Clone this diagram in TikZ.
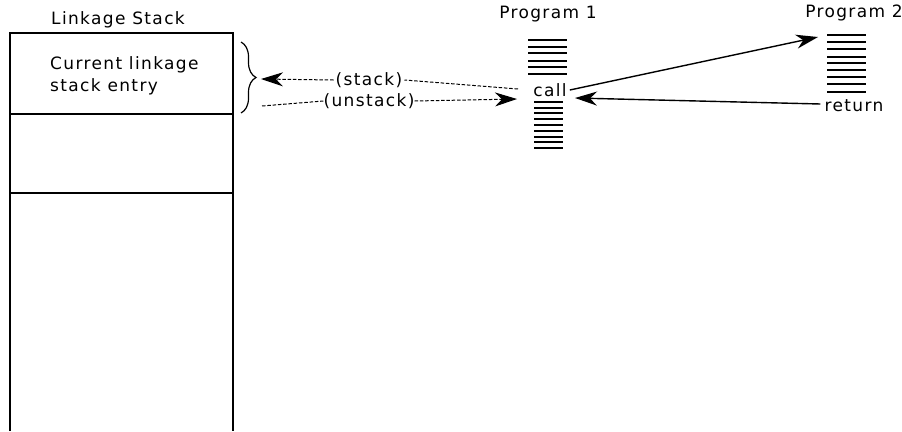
\documentclass[tikz,border=0pt]{standalone}
\usepackage{fontspec}
\setmainfont[LetterSpace=8]{DejaVu Sans}
\usetikzlibrary{arrows.meta,decorations.pathreplacing}
\tikzset{
  lbl/.style={inner sep=0pt, font=\fontsize{17}{22}\selectfont},
  codeline/.style={line width=1.2pt},
  big/.style={-{Stealth[length=22pt,width=14pt,inset=7pt]}},
  dashln/.style={dash pattern=on 3.5pt off 1.8pt, line width=1pt},
  solidarrow/.style={line width=1.4pt}
}
\begin{document}
\begin{tikzpicture}[x=1pt,y=-1pt]
\useasboundingbox (0,0) rectangle (902,431);
% linkage stack
\draw[line width=1.2pt] (10,431) -- (10,33) -- (233,33) -- (233,431);
\draw[line width=1.2pt] (10,114) -- (233,114);
\draw[line width=1.2pt] (10,193) -- (233,193);
\node[lbl] (ltitle) at (118,20) {Linkage Stack};
\node[lbl, align=left, anchor=west] (entry) at (50,76) {Current linkage\\stack entry};
% brace
\draw[line width=1.2pt, decorate, decoration={brace, amplitude=15pt}] (241,42) -- (241,113);
\coordinate (btip) at (261,79);
\coordinate (bstart) at (262,106);
% program 1
\node[lbl] (p1title) at (548,14) {Program 1};
\foreach \y in {40,47,53,61,67,74} \draw[codeline] (528,\y) -- (567,\y);
\node[lbl] (call) at (550,90) {call};
\foreach \y in {102,108,113,119,125,131,137,142,148} \draw[codeline] (534,\y) -- (563,\y);
% program 2
\node[lbl] (p2title) at (854,13) {Program 2};
\foreach \y in {35,42,49,57,63,70,77,84,92} \draw[codeline] (827,\y) -- (866,\y);
\node[lbl] (ret) at (854,106) {return};
\coordinate (p2top) at (818,37);
% dashed arrows
\node[lbl] (stk) at (369,80) {(stack)};
\node[lbl] (unstk) at (369,101) {(unstack)};
\coordinate (stkfrom) at (518,89);
\coordinate (unstkto) at (517,99);
\draw[dashln] (stkfrom) -- ([xshift=2pt]stk.east);
\draw[dashln, big] ([xshift=-2pt]stk.west) -- (btip);
\draw[dashln] (bstart) -- (unstk.west);
\draw[dashln, big] (unstk.east) -- (unstkto);
% solid arrows
\coordinate (retto) at (575,98);
\draw[solidarrow, big] ([xshift=3pt]call.east) -- (p2top);
\draw[solidarrow, big] ([xshift=-4pt,yshift=2pt]ret.west) -- (retto);
\end{tikzpicture}
\end{document}
